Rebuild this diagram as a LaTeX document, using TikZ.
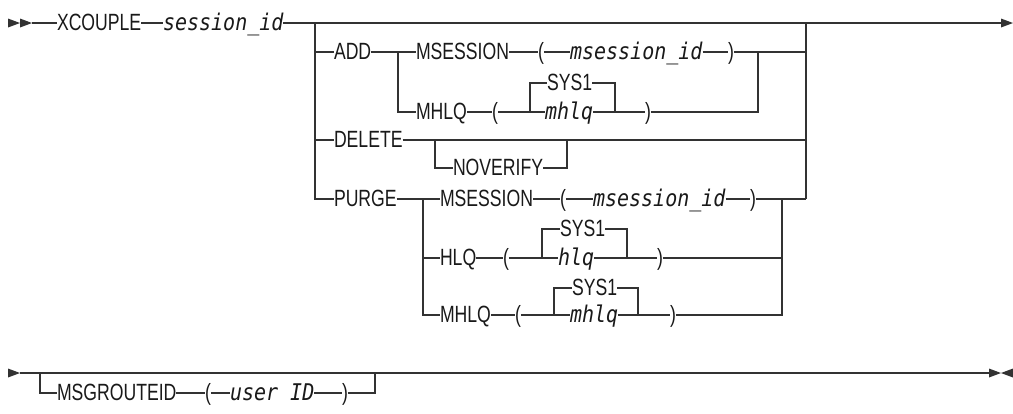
\documentclass[tikz,border=0pt]{standalone}
\usepackage{fontspec}
\usepackage{tikz}
\usetikzlibrary{positioning,calc}
\newfontfamily\kwfont{Liberation Sans}[FakeStretch=0.75]
\newfontfamily\varfont{DejaVu Sans Mono}[FakeStretch=0.87]
\definecolor{rail}{RGB}{50,50,50}
\definecolor{ink}{RGB}{25,25,25}

\begin{document}
\begin{tikzpicture}[x=1pt,y=-1pt,color=rail,line width=1.1pt,
    kw/.style={anchor=west,inner sep=0,outer sep=0,text height=14pt,text depth=0pt,
      text=ink,font=\kwfont\fontsize{23.5}{24}\selectfont},
    var/.style={kw,font=\varfont\itshape\fontsize{23}{24}\selectfont},
    tipR/.pic={\fill (-12pt,4.5pt) -- (0,0) -- (-12pt,-4.5pt) -- cycle;},
    tipL/.pic={\fill (12pt,4.5pt) -- (0,0) -- (12pt,-4.5pt) -- cycle;}]
    \useasboundingbox (0,0) rectangle (1013,413);
    % first line
    \coordinate (go) at (32,23);
    \coordinate (jl0) at (315,23);
    \coordinate (jr0) at (806,23);
    \coordinate (jr3) at (806,199);
    \coordinate (stop) at (1013,23);
    \node[kw] (xcouple) at (57,23) {XCOUPLE};
    \node[var] (sessid) at (163,23) {session\_id};
    \node[kw] (add) at (334,52) {ADD};
    \node[kw] (delete) at (334,140) {DELETE};
    \node[kw] (purge) at (334,199) {PURGE};
    \pic at (20,23) {tipR};
    \pic at (go) {tipR};
    \pic at (stop) {tipR};
    \draw (go) -- (xcouple);
    \draw (xcouple) -- (sessid);
    \draw (sessid) -- (jl0) -- (jr0) -- ([xshift=-10pt]stop);
    \draw (jl0) |- (purge);
    \draw (jl0 |- add) -- (add);
    \draw (jl0 |- delete) -- (delete);
    \draw (jr0) -- (jr3);
    % ADD
    \coordinate (ja) at (398,52);
    \coordinate (jb) at (758,52);
    \coordinate (bl1) at (530,112);
    \coordinate (br1) at (615,112);
    \node[kw] (msess1) at (416,52) {MSESSION};
    \node[kw] (lp1) at (538,52) {(};
    \node[var] (msid1) at (570,52) {msession\_id};
    \node[kw] (rp1) at (728,52) {)};
    \node[kw] (mhlq1) at (416,112) {MHLQ};
    \node[kw] (lp2) at (492,112) {(};
    \node[kw] (sys1a) at (547,83) {SYS1};
    \node[var] (mhlqv1) at (545,112) {mhlq};
    \node[kw] (rp2) at (645,112) {)};
    \draw (add) -- (ja) -- (msess1);
    \draw (ja) |- (mhlq1);
    \draw (msess1) -- (lp1);
    \draw (lp1) -- (msid1);
    \draw (msid1) -- (rp1);
    \draw (rp1) -- (jb) -- (jr0 |- jb);
    \draw (mhlq1) -- (lp2);
    \draw (lp2) -- (mhlqv1);
    \draw (mhlqv1) -- (rp2);
    \draw (rp2) -| (jb);
    \draw (bl1) |- (sys1a);
    \draw (sys1a) -| (br1);
    % DELETE
    \coordinate (nl) at (435,140);
    \coordinate (nr) at (567,140);
    \node[kw] (nover) at (453,168) {NOVERIFY};
    \draw (delete) -- (jr0 |- delete);
    \draw (nl) |- (nover);
    \draw (nover) -| (nr);
    % PURGE
    \coordinate (jp1) at (423,199);
    \coordinate (jp2) at (782,199);
    \coordinate (bl2) at (542,258);
    \coordinate (br2) at (627,258);
    \coordinate (bl3) at (554,315);
    \coordinate (br3) at (638,315);
    \node[kw] (msess2) at (440,199) {MSESSION};
    \node[kw] (lp3) at (560,199) {(};
    \node[var] (msid2) at (593,199) {msession\_id};
    \node[kw] (rp3) at (750,199) {)};
    \node[kw] (hlq) at (440,258) {HLQ};
    \node[kw] (lp4) at (503,258) {(};
    \node[kw] (sys1b) at (560,229) {SYS1};
    \node[var] (hlqv) at (558,258) {hlq};
    \node[kw] (rp4) at (657,258) {)};
    \node[kw] (mhlq2) at (440,315) {MHLQ};
    \node[kw] (lp5) at (515,315) {(};
    \node[kw] (sys1c) at (572,288) {SYS1};
    \node[var] (mhlqv2) at (570,315) {mhlq};
    \node[kw] (rp5) at (670,315) {)};
    \draw (purge) -- (jp1) -- (msess2);
    \draw (jp1) |- (mhlq2);
    \draw (jp1 |- hlq) -- (hlq);
    \draw (msess2) -- (lp3);
    \draw (lp3) -- (msid2);
    \draw (msid2) -- (rp3);
    \draw (rp3) -- (jp2) -- (jr3);
    \draw (hlq) -- (lp4);
    \draw (lp4) -- (hlqv);
    \draw (hlqv) -- (rp4);
    \draw (rp4) -- (jp2 |- rp4);
    \draw (bl2) |- (sys1b);
    \draw (sys1b) -| (br2);
    \draw (mhlq2) -- (lp5);
    \draw (lp5) -- (mhlqv2);
    \draw (mhlqv2) -- (rp5);
    \draw (rp5) -| (jp2);
    \draw (bl3) |- (sys1c);
    \draw (sys1c) -| (br3);
    % second line
    \coordinate (go2) at (20,373);
    \coordinate (ml) at (40,373);
    \coordinate (mr) at (375,373);
    \coordinate (stop2) at (1001,373);
    \node[kw] (msgr) at (57,393) {MSGROUTEID};
    \node[kw] (lp6) at (205,393) {(};
    \node[var] (uid) at (230,393) {user ID};
    \node[kw] (rp6) at (342,393) {)};
    \pic at (go2) {tipR};
    \pic at (stop2) {tipR};
    \pic at (stop2) {tipL};
    \draw (go2) -- ([xshift=-10pt]stop2);
    \draw (ml) |- (msgr);
    \draw (msgr) -- (lp6);
    \draw (lp6) -- (uid);
    \draw (uid) -- (rp6);
    \draw (rp6) -| (mr);
\end{tikzpicture}
\end{document}
